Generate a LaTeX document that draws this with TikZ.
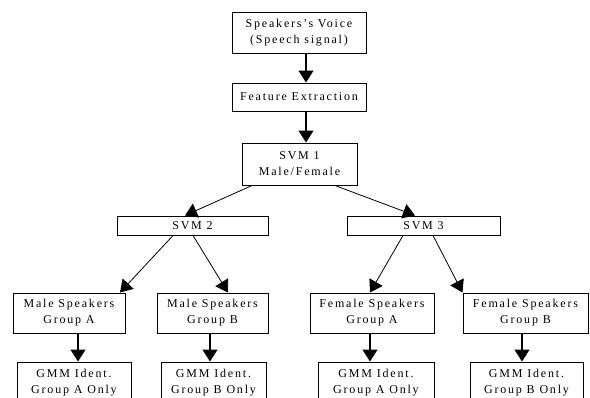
\documentclass[tikz,border=0pt]{standalone}
\usepackage{fontspec}
\setmainfont[LetterSpace=15]{Liberation Serif}
\usetikzlibrary{arrows.meta}
\tikzset{>={Triangle[width=15pt,length=12pt]}}
\tikzset{box/.style={draw,line width=1pt,inner sep=0pt,align=center,font=\fontsize{12}{16}\selectfont}}

\begin{document}
\begin{tikzpicture}[x=1pt,y=-1pt]
    \useasboundingbox (0,0) rectangle (590,397);
    \begin{scope}
    \clip (0,0) rectangle (590,397);

    \node[box,minimum width=134pt,minimum height=41pt] (voice) at (299,32.5) {Speakers’s Voice\\(Speech signal)};
    \node[box,minimum width=134pt,minimum height=28pt] (feat) at (299,97) {Feature Extraction};
    \node[box,minimum width=115pt,minimum height=42pt] (svm1) at (299.5,164) {SVM 1\\Male/Female};
    \node[box,minimum width=151pt,minimum height=19pt] (svm2) at (192.5,225.5) {SVM 2};
    \node[box,minimum width=153pt,minimum height=19pt] (svm3) at (423.5,225.5) {SVM 3};

    \node[box,minimum width=112pt,minimum height=40pt] (mA) at (69,313) {Male Speakers\\Group A};
    \node[box,minimum width=111pt,minimum height=40pt] (mB) at (212.5,313) {Male Speakers\\Group B};
    \node[box,minimum width=124pt,minimum height=40pt] (fA) at (372,313) {Female Speakers\\Group A};
    \node[box,minimum width=125pt,minimum height=40pt] (fB) at (525.5,313) {Female Speakers\\Group B};

    \node[box,minimum width=114pt,minimum height=42pt] (gA) at (74,383) {GMM Ident.\\Group A Only};
    \node[box,minimum width=105pt,minimum height=42pt] (gB) at (213.5,383) {GMM Ident.\\Group B Only};
    \node[box,minimum width=116pt,minimum height=42pt] (gC) at (376,383) {GMM Ident.\\Group A Only};
    \node[box,minimum width=113pt,minimum height=42pt] (gD) at (526.5,383) {GMM Ident.\\Group B Only};

    % straight down
    \draw[->,line width=1.2pt] ([xshift=7pt]voice.south) -- ([xshift=7pt]feat.north);
    \draw[->,line width=1.2pt] ([xshift=7pt]feat.south) -- ([xshift=6.5pt]svm1.north);
    \draw[->,line width=1.2pt] ([xshift=9pt]mA.south) -- ([xshift=4pt]gA.north);
    \draw[->,line width=1.2pt] ([xshift=-2.5pt]mB.south) -- ([xshift=-3.5pt]gB.north);
    \draw[->,line width=1.2pt] ([xshift=-2pt]fA.south) -- ([xshift=-6pt]gC.north);
    \draw[->,line width=1.2pt] ([xshift=-3.5pt]fB.south) -- ([xshift=-4.5pt]gD.north);

    % branches
    \draw[->,line width=0.8pt] ([xshift=-47.5pt]svm1.south) -- ([xshift=-7.5pt]svm2.north);
    \draw[->,line width=0.8pt] ([xshift=35.5pt]svm1.south) -- ([xshift=-8.5pt]svm3.north);
    \draw[->,line width=0.8pt] ([xshift=-19.5pt]svm2.south) -- ([xshift=51pt]mA.north);
    \draw[->,line width=0.8pt] ([xshift=0.5pt]svm2.south) -- ([xshift=15.5pt]mB.north);
    \draw[->,line width=0.8pt] ([xshift=-20.5pt]svm3.south) -- ([xshift=-2pt]fA.north);
    \draw[->,line width=0.8pt] ([xshift=9.5pt]svm3.south) -- (fB.north west);
    \end{scope}
\end{tikzpicture}
\end{document}
